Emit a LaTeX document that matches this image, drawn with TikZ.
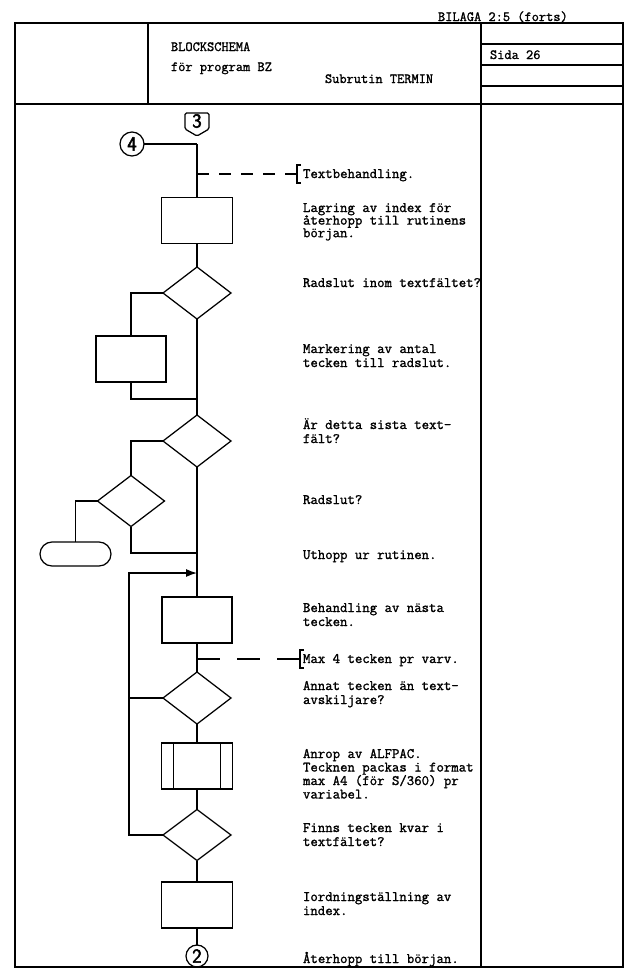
\documentclass[tikz,border=0pt]{standalone}
\usetikzlibrary{shapes.geometric,arrows.meta}
\lineskiplimit=-100pt
\newcommand\mytb[2]{\parbox[t]{200pt}{\fontsize{14.4}{#1}\selectfont #2}}
\newcommand\heavytext{\special{pdf:literal direct 2 Tr 0.2 w}}
\newcommand\heavydigit{\special{pdf:literal direct 2 Tr 0.5 w}}
\begin{document}
\begin{tikzpicture}[x=1pt,y=-1pt,
  every node/.style={inner sep=0pt, outer sep=0pt},
  ln/.style={line width=1.25pt, line join=miter},
  frm/.style={line width=1.5pt},
  blk/.style={draw, line width=1.25pt, rectangle, minimum width=71pt, minimum height=46pt},
  dia/.style={draw, line width=1.25pt, diamond, minimum width=68pt, minimum height=52pt},
  txt/.style={anchor=base west, font=\fontsize{14.4}{13}\selectfont\ttfamily, execute at begin node=\heavytext},
  hdr/.style={anchor=base west, font=\fontsize{14}{13}\selectfont\ttfamily, execute at begin node=\heavytext},
  dig/.style={font=\fontsize{20}{20}\selectfont\sffamily, execute at begin node=\heavydigit},
  dsh/.style={line width=1.25pt, dash pattern=on 12pt off 10pt}
]
\fill[white] (0,0) rectangle (631,970);
\useasboundingbox (0,0) rectangle (631,970);

% frame and header
\draw[frm] (15,23) rectangle (623,967);
\draw[frm] (15,104) -- (623,104);
\draw[ln] (148,23) -- (148,104);
\draw[ln] (481,23) -- (481,967);
\draw[ln] (481,44) -- (623,44);
\draw[ln] (481,65) -- (623,65);
\draw[ln] (481,86) -- (623,86);

\node[hdr] (bil) at (438,21) {BILAGA 2:5 (forts)};
\node[hdr] (bs) at (171,51) {BLOCKSCHEMA};
\node[hdr] (fp) at (171,71) {för program BZ};
\node[hdr] (sub) at (325,83) {Subrutin TERMIN};
\node[hdr] (sida) at (490,59) {Sida 26};

% connectors 3 and 4
\node[dig, minimum width=24pt, minimum height=16pt] (c3) at (197,121) {3};
\draw[ln, rounded corners=1.5pt] (c3.north west) -- (c3.north east) -- (c3.south east) -- ([yshift=-7pt]c3.south) -- (c3.south west) -- cycle;
\node[dig, circle, draw, ln, minimum size=24pt] (c4) at (132,144) {4};
\coordinate (j0) at (197,144);
\draw[ln] (c4.east) -- (j0);

% first block
\node[blk] (b1) at (197,220.5) {};
\draw[ln] (j0) -- (b1.north);
\coordinate (d1) at (197,174);
\coordinate (br1) at (297,174);
\draw[dsh] (d1) -- (br1);
\draw[ln] ([shift={(4,-9)}]br1) -- ([shift={(0,-9)}]br1) -- ([shift={(0,9)}]br1) -- ([shift={(4,9)}]br1);

% decision 1 and side block
\node[dia] (dm1) at (197,293) {};
\draw[ln] (b1.south) -- (dm1.north);
\node[blk, minimum width=70pt] (b2) at (131,359) {};
\draw[ln] (dm1.west) -| (b2.north);
\coordinate (j1) at (197,399);
\draw[ln] (b2.south) |- (j1);

% decision 2, 3 and terminal
\node[dia] (dm2) at (197,441) {};
\draw[ln] (dm1.south) -- (dm2.north);
\node[dia, minimum width=67pt, minimum height=51pt] (dm3) at (131,501) {};
\draw[ln] (dm2.west) -| (dm3.north);
\node[draw, ln, rounded corners=12pt, minimum width=71pt, minimum height=24pt] (term) at (75.5,554) {};
\draw[ln] (dm3.west) -| (term.north);
\coordinate (j2) at (197,553);
\draw[ln] (dm3.south) |- (j2);

% loop
\node[blk, minimum width=70pt] (b3) at (197,620) {};
\draw[ln] (dm2.south) -- (b3.north);
\coordinate (j3) at (197,573);
\coordinate (lp) at (129,573);
\coordinate (d2) at (197,659);
\coordinate (br2) at (300,659);
\draw[dsh, dash pattern=on 23pt off 17pt] (d2) -- (br2);
\draw[ln] ([shift={(4,-9)}]br2) -- ([shift={(0,-9)}]br2) -- ([shift={(0,9)}]br2) -- ([shift={(4,9)}]br2);
\node[dia] (dm4) at (197,698) {};
\draw[ln] (b3.south) -- (dm4.north);
\coordinate (j4) at (129,698);
\draw[ln] (dm4.west) -- (j4);
\node[blk] (pp) at (197,766) {};
\draw[ln] ([xshift=12pt]pp.north west) -- ([xshift=12pt]pp.south west);
\draw[ln] ([xshift=-12pt]pp.north east) -- ([xshift=-12pt]pp.south east);
\draw[ln] (dm4.south) -- (pp.north);
\node[dia, minimum height=51pt] (dm5) at (197,835) {};
\draw[ln] (pp.south) -- (dm5.north);
\coordinate (lb) at (129,835);
\draw[ln, -{Latex[length=11pt,width=8pt]}] (dm5.west) -- (lb) -- (lp) -- (j3);
\node[blk] (b5) at (197,905) {};
\draw[ln] (dm5.south) -- (b5.north);
\node[dig, circle, draw, ln, minimum size=22pt] (c2) at (197,956) {2};
\draw[ln] (b5.south) -- (c2.north);

% texts
\node[txt] (t1) at (303,178) {Textbehandling.};
\node[txt] (t2) at (303,212) {\mytb{12.6}{Lagring av index för\\återhopp till rutinens\\början.}};
\node[txt] (t3) at (303,287) {Radslut inom textfältet?};
\node[txt] (t4) at (303,353) {\mytb{14}{Markering av antal\\tecken till radslut.}};
\node[txt] (t5) at (303,429) {\mytb{14}{Är detta sista text-\\fält?}};
\node[txt] (t6) at (303,504) {Radslut?};
\node[txt] (t7) at (303,559) {Uthopp ur rutinen.};
\node[txt] (t8) at (303,612) {\mytb{14}{Behandling av nästa\\tecken.}};
\node[txt] (t9) at (303,663) {Max 4 tecken pr varv.};
\node[txt] (t10) at (303,690) {\mytb{14}{Annat tecken än text-\\avskiljare?}};
\node[txt] (t11) at (303,758) {\mytb{13.5}{Anrop av ALFPAC.\\Tecknen packas i format\\max A4 (för S/360) pr\\variabel.}};
\node[txt] (t12) at (303,832) {\mytb{14}{Finns tecken kvar i\\textfältet?}};
\node[txt] (t13) at (303,901) {\mytb{14}{Iordningställning av\\index.}};
\node[txt] (t14) at (303,963) {Återhopp till början.};
\end{tikzpicture}
\end{document}
